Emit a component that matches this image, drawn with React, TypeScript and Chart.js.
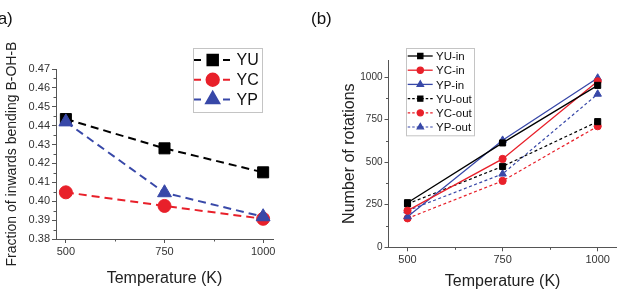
import React, { useEffect, useRef } from 'react';
import { Chart, registerables } from 'chart.js';
import { drawPoint } from 'chart.js/helpers';

Chart.register(...registerables);

const FONT = "'Liberation Sans', Arial, sans-serif";
const AXIS = '#555';
const TICK_TEXT = '#333';
const TITLE_TEXT = '#222';
const BLACK = '#000000';
const RED = '#e8202a';
const BLUE = '#3848a8';

// Panel (a): fraction of inwards bending B-OH-B vs temperature
const temperaturesA = [500, 750, 1000];
const fractionYU = [0.4435, 0.428, 0.4153];
const fractionYC = [0.4047, 0.3975, 0.3907];
const fractionYP = [0.442, 0.4045, 0.3918];
const xTicksA = [500, 750, 1000];
const xMinorA = [625, 875];
const yTicksA = [0.38, 0.39, 0.4, 0.41, 0.42, 0.43, 0.44, 0.45, 0.46, 0.47];
const yMinorA = [0.385, 0.395, 0.405, 0.415, 0.425, 0.435, 0.445, 0.455, 0.465];

// Panel (b): number of rotations vs temperature
const temperaturesB = [500, 750, 1000];
const rotationsYUin = [262, 613, 951];
const rotationsYCin = [215, 519, 975];
const rotationsYPin = [180, 629, 994];
const rotationsYUout = [255, 475, 738];
const rotationsYCout = [170, 390, 711];
const rotationsYPout = [215, 431, 900];
const xTicksB = [500, 750, 1000];
const xMinorB = [625, 875];
const yTicksB = [0, 250, 500, 750, 1000];
const yMinorB = [125, 375, 625, 875];

const toPoints = (xs: number[], ys: number[]) => xs.map((x, i) => ({ x, y: ys[i] }));

// Short outward minor ticks on the left and bottom axes
const minorTicks = {
  id: 'minorTicks',
  afterDraw(chart: any, _args: any, opts: any) {
    const { ctx, chartArea } = chart;
    const xs = chart.scales.x;
    const ys = chart.scales.y;
    ctx.save();
    ctx.strokeStyle = AXIS;
    ctx.lineWidth = 1;
    ctx.beginPath();
    for (const v of opts.x || []) {
      const px = Math.round(xs.getPixelForValue(v)) + 0.5;
      ctx.moveTo(px, chartArea.bottom);
      ctx.lineTo(px, chartArea.bottom + opts.len);
    }
    for (const v of opts.y || []) {
      const py = Math.round(ys.getPixelForValue(v)) + 0.5;
      ctx.moveTo(chartArea.left, py);
      ctx.lineTo(chartArea.left - opts.len, py);
    }
    ctx.stroke();
    ctx.restore();
  },
};

// Framed legend drawn inside the plot area
const boxLegend = {
  id: 'boxLegend',
  afterDatasetsDraw(chart: any, _args: any, o: any) {
    const { ctx } = chart;
    ctx.save();
    ctx.fillStyle = '#ffffff';
    ctx.fillRect(o.x, o.y, o.w, o.h);
    ctx.strokeStyle = '#c4c4c4';
    ctx.lineWidth = 1;
    ctx.setLineDash([]);
    ctx.strokeRect(Math.round(o.x) + 0.5, Math.round(o.y) + 0.5, o.w, o.h);
    chart.data.datasets.forEach((ds: any, i: number) => {
      const cy = o.firstRow + i * o.rowH;
      ctx.strokeStyle = ds.borderColor;
      ctx.lineWidth = ds.borderWidth;
      ctx.setLineDash(o.legendDash ? (ds.borderDash ? o.legendDash : []) : ds.borderDash || []);
      ctx.beginPath();
      for (const [a, b] of o.segments) {
        ctx.moveTo(a, cy);
        ctx.lineTo(b, cy);
      }
      ctx.stroke();
      ctx.setLineDash([]);
      ctx.fillStyle = ds.pointBackgroundColor;
      ctx.strokeStyle = ds.borderColor;
      drawPoint(ctx, { pointStyle: ds.pointStyle, radius: ds.pointRadius * o.markerScale, rotation: 0, borderWidth: 1 }, o.markerX, cy);
      ctx.fillStyle = '#111';
      ctx.font = `${o.fontSize}px ${FONT}`;
      ctx.textBaseline = 'middle';
      ctx.textAlign = 'left';
      ctx.fillText(ds.label, o.textX, cy + 1);
    });
    ctx.restore();
  },
};

function axisX(min: number, max: number, ticks: number[], height: number, tickSize: number, titlePad: any) {
  return {
    type: 'linear',
    min,
    max,
    afterBuildTicks: (s: any) => {
      s.ticks = ticks.map((v) => ({ value: v }));
    },
    afterFit: (s: any) => {
      s.height = height;
    },
    grid: { display: true, drawOnChartArea: false, drawTicks: true, tickLength: 4, tickColor: AXIS, tickWidth: 1 },
    border: { display: true, color: AXIS, width: 1 },
    ticks: { font: { family: FONT, size: tickSize }, color: TICK_TEXT, padding: 2, maxRotation: 0, autoSkip: false, callback: (v: any) => String(v) },
    title: { display: true, text: 'Temperature (K)', font: { family: FONT, size: 16 }, color: TITLE_TEXT, padding: titlePad },
  };
}

function axisY(min: number, max: number, ticks: number[], width: number, tickSize: number, fmt: (v: number) => string, title: string, titleSize: number, titlePad: any) {
  return {
    type: 'linear',
    min,
    max,
    afterBuildTicks: (s: any) => {
      s.ticks = ticks.map((v) => ({ value: v }));
    },
    afterFit: (s: any) => {
      s.width = width;
    },
    grid: { display: true, drawOnChartArea: false, drawTicks: true, tickLength: 4, tickColor: AXIS, tickWidth: 1 },
    border: { display: true, color: AXIS, width: 1 },
    ticks: { font: { family: FONT, size: tickSize }, color: TICK_TEXT, padding: 2, autoSkip: false, callback: (v: any) => fmt(Number(v)) },
    title: { display: true, text: title, font: { family: FONT, size: titleSize }, color: TITLE_TEXT, padding: titlePad },
  };
}

function seriesA(label: string, data: number[], color: string, style: string, radius: number, order: number) {
  return {
    label,
    data: toPoints(temperaturesA, data),
    borderColor: color,
    backgroundColor: color,
    pointBackgroundColor: color,
    pointBorderColor: color,
    borderWidth: 2,
    borderDash: [8, 5],
    pointStyle: style,
    pointRadius: radius,
    pointBorderWidth: 1,
    order,
  };
}

function seriesB(label: string, data: number[], color: string, style: string, radius: number, dashed: boolean) {
  return {
    label,
    data: toPoints(temperaturesB, data),
    borderColor: color,
    backgroundColor: color,
    pointBackgroundColor: color,
    pointBorderColor: color,
    borderWidth: dashed ? 1.2 : 1.3,
    borderDash: dashed ? [3, 2.5] : undefined,
    pointStyle: style,
    pointRadius: radius,
    pointBorderWidth: 1,
  };
}

export default function App() {
  const refA = useRef<HTMLCanvasElement>(null);
  const refB = useRef<HTMLCanvasElement>(null);

  useEffect(() => {
    const chartA = new Chart(refA.current as HTMLCanvasElement, {
      type: 'line',
      data: {
        datasets: [
          seriesA('YU', fractionYU, BLACK, 'rect', 7.8, 2),
          seriesA('YC', fractionYC, RED, 'circle', 6.5, 1),
          seriesA('YP', fractionYP, BLUE, 'triangle', 8, 0),
        ],
      },
      options: {
        animation: false,
        responsive: false,
        devicePixelRatio: 1,
        layout: { padding: { left: 0, right: 38, top: 69, bottom: 0 } },
        scales: {
          x: axisX(475, 1025, xTicksA, 52, 11, { top: 0, bottom: 3 }),
          y: axisY(0.38, 0.47, yTicksA, 56, 11, (v) => v.toFixed(2), 'Fraction of inwards bending B-OH-B', 14, { top: 4, bottom: 0 }),
        },
        plugins: {
          legend: { display: false },
          tooltip: { enabled: false },
          minorTicks: { x: xMinorA, y: yMinorA, len: 2.5 },
          boxLegend: {
            x: 193, y: 48, w: 69, h: 64,
            firstRow: 60, rowH: 19.7,
            segments: [[194, 201], [223, 230]],
            markerX: 212.7, markerScale: 0.95,
            textX: 236.5, fontSize: 16,
          },
        },
      } as any,
      plugins: [minorTicks, boxLegend],
    });

    const chartB = new Chart(refB.current as HTMLCanvasElement, {
      type: 'line',
      data: {
        datasets: [
          seriesB('YU-in', rotationsYUin, BLACK, 'rect', 4.3, false),
          seriesB('YC-in', rotationsYCin, RED, 'circle', 3.6, false),
          seriesB('YP-in', rotationsYPin, BLUE, 'triangle', 4.3, false),
          seriesB('YU-out', rotationsYUout, BLACK, 'rect', 4.3, true),
          seriesB('YC-out', rotationsYCout, RED, 'circle', 3.6, true),
          seriesB('YP-out', rotationsYPout, BLUE, 'triangle', 4.3, true),
        ],
      },
      options: {
        animation: false,
        responsive: false,
        devicePixelRatio: 1,
        layout: { padding: { left: 0, right: 0, top: 60, bottom: 0 } },
        scales: {
          x: axisX(450, 1050, xTicksB, 43.7, 11, { top: 0, bottom: 0 }),
          y: axisY(0, 1100, yTicksB, 77.5, 10, (v) => String(v), 'Number of rotations', 16, { top: 29, bottom: 0 }),
        },
        plugins: {
          legend: { display: false },
          tooltip: { enabled: false },
          minorTicks: { x: xMinorB, y: yMinorB, len: 2.5 },
          boxLegend: {
            x: 94.5, y: 47.7, w: 68, h: 87.3,
            firstRow: 56, rowH: 14.2,
            segments: [[96.7, 121.7]],
            legendDash: [2.5, 2],
            markerX: 109.3, markerScale: 0.85,
            textX: 125, fontSize: 11.5,
          },
        },
      } as any,
      plugins: [minorTicks, boxLegend],
    });

    return () => {
      chartA.destroy();
      chartB.destroy();
    };
  }, []);

  const panelLabel: React.CSSProperties = {
    position: 'absolute',
    fontFamily: FONT,
    fontSize: 17,
    lineHeight: '17px',
    color: '#111',
    whiteSpace: 'nowrap',
  };

  return (
    <div style={{ position: 'fixed', left: 0, top: 0, width: 622, height: 291, background: '#fff', overflow: 'hidden' }}>
      <canvas ref={refA} width={311} height={291} style={{ position: 'absolute', left: 0, top: 0, width: 311, height: 291, display: 'block' }} />
      <canvas ref={refB} width={311} height={291} style={{ position: 'absolute', left: 311, top: 0, width: 311, height: 291, display: 'block' }} />
      <span style={{ ...panelLabel, left: -8, top: 10 }}>(a)</span>
      <span style={{ ...panelLabel, left: 311, top: 10 }}>(b)</span>
    </div>
  );
}
